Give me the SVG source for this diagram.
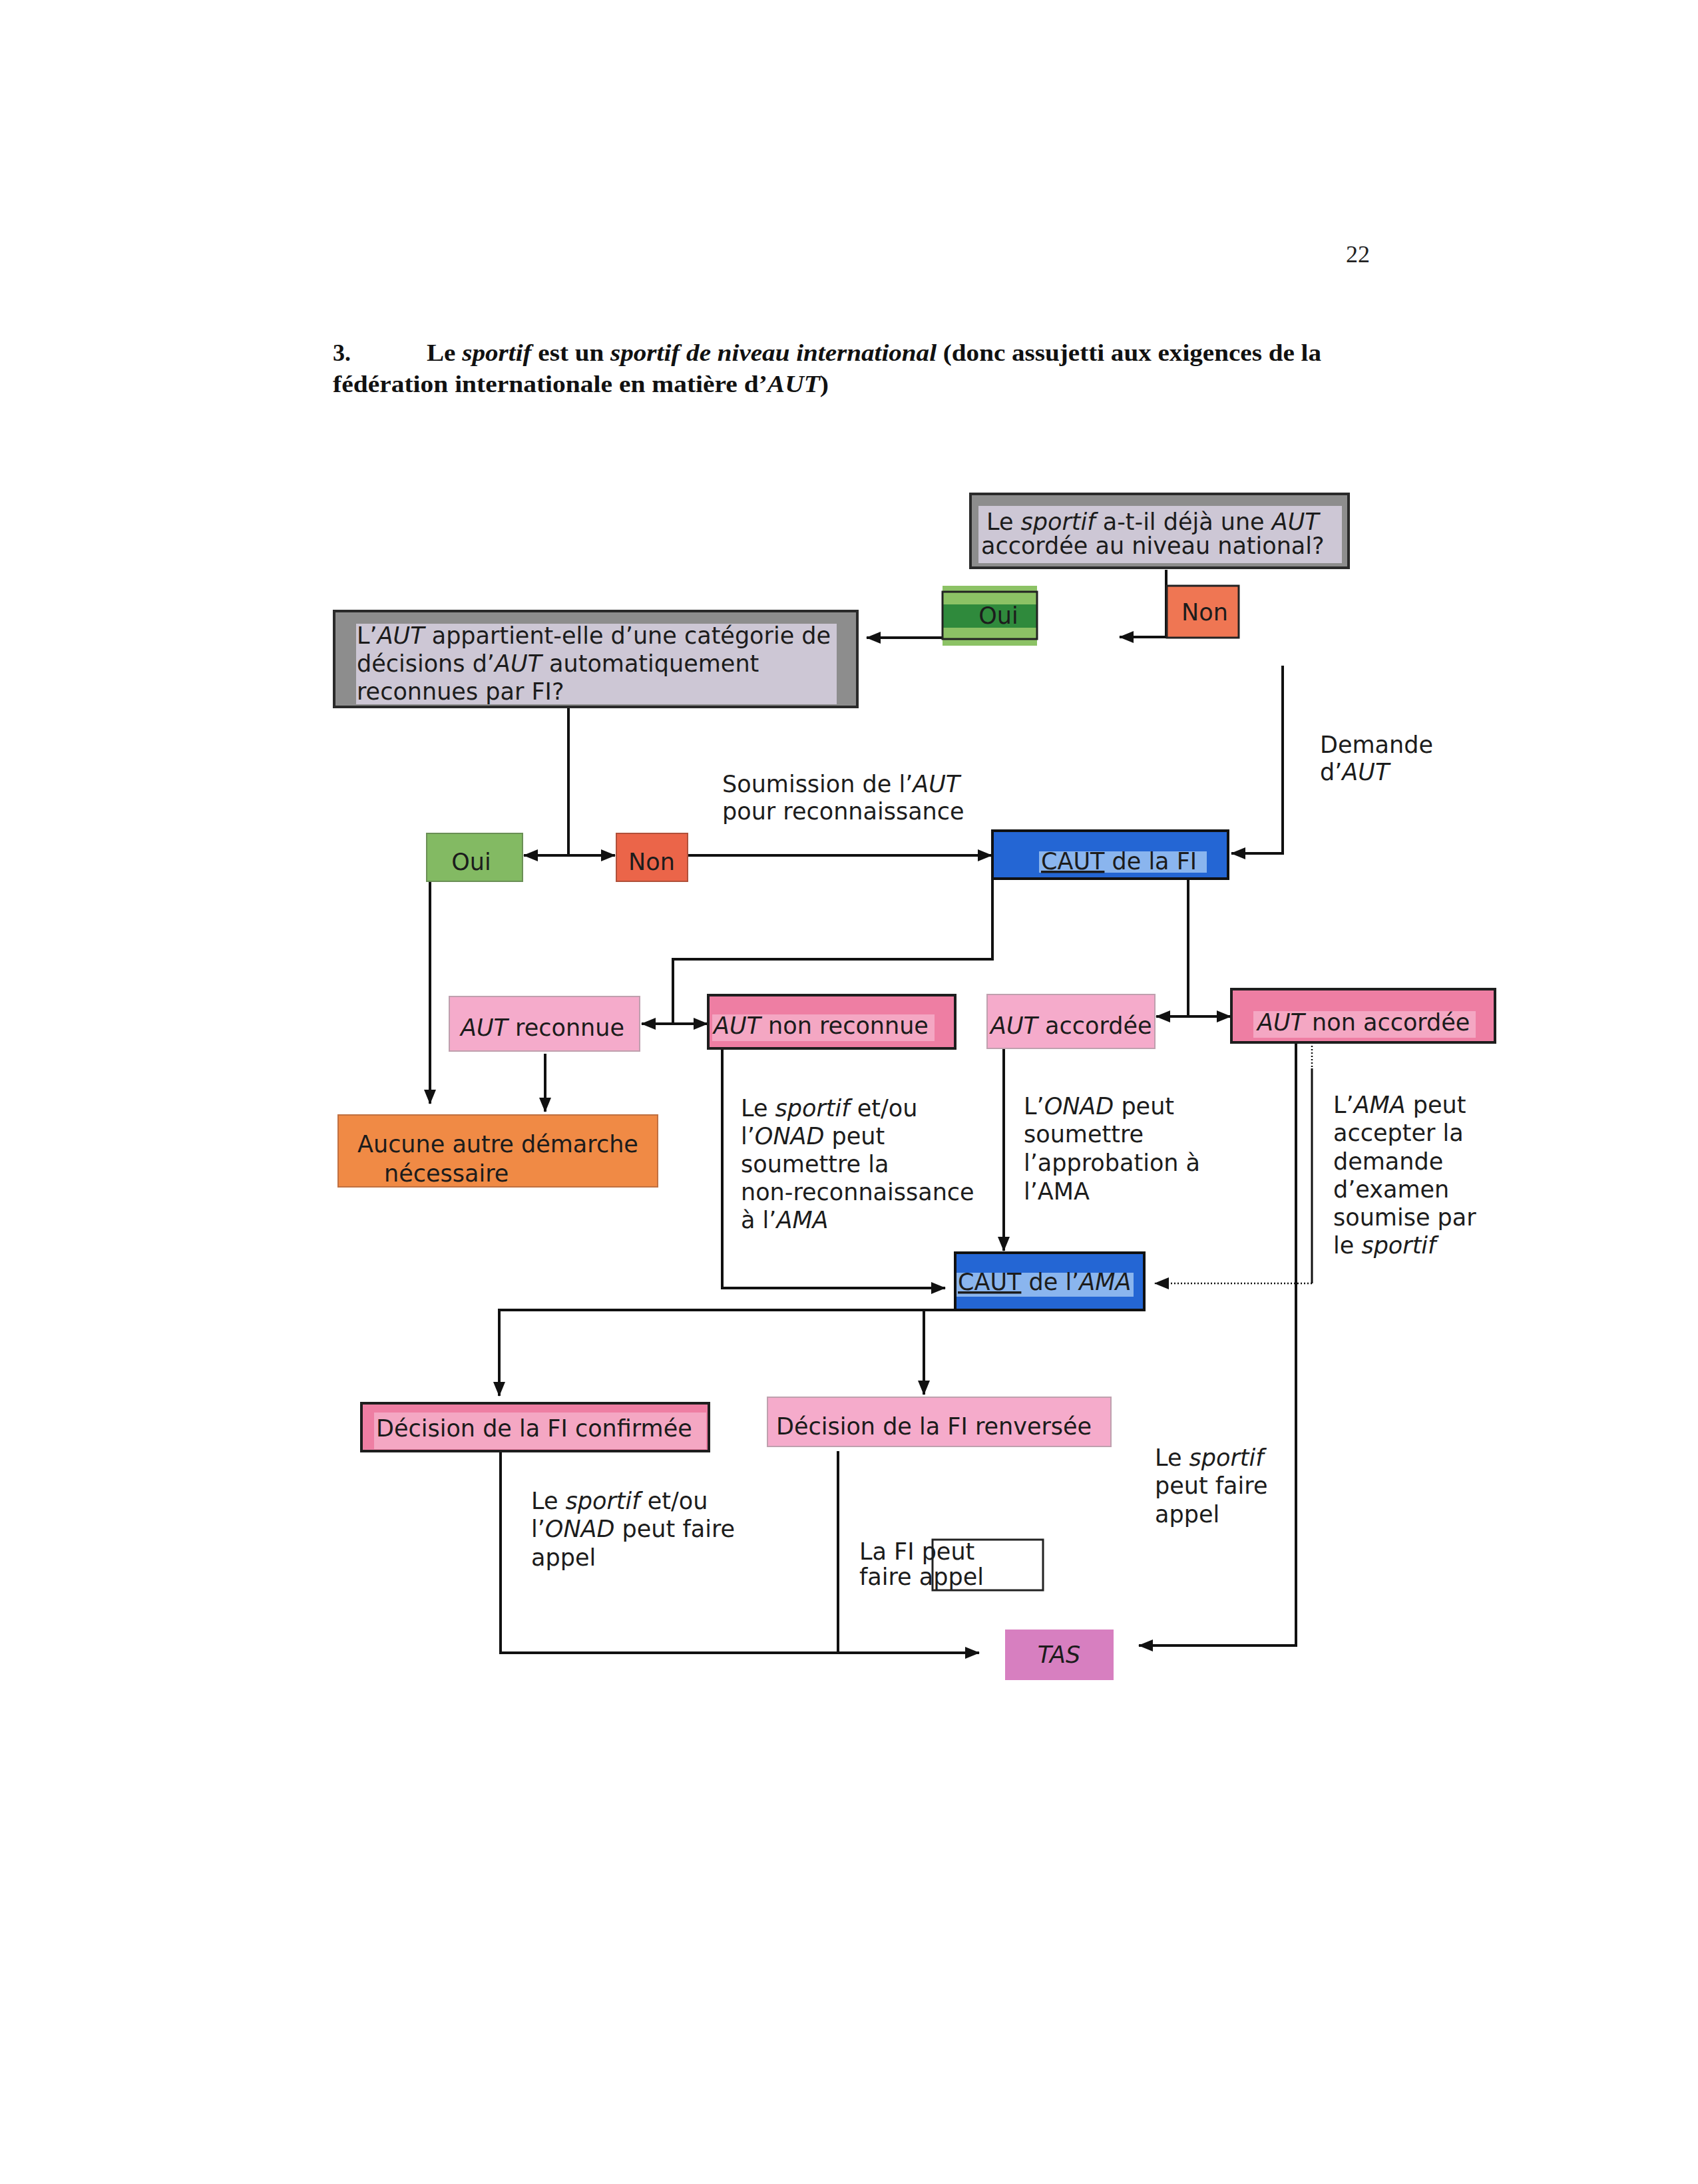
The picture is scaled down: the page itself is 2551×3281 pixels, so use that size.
<svg xmlns="http://www.w3.org/2000/svg" width="2551" height="3281" viewBox="0 0 2551 3281">
<style>
.t{font-family:"DejaVu Sans",Verdana,sans-serif;font-size:35px;fill:#1c1c1c}
.c{text-anchor:middle}
.i{font-style:italic}
.h{font-family:"Liberation Serif","Times New Roman",serif;font-size:36px;font-weight:bold;fill:#111}
.ln{stroke:#111;stroke-width:4;fill:none}
.dot{stroke:#111;stroke-width:2.5;fill:none;stroke-dasharray:2 3}
.grey{fill:#8d8d8d;stroke:#2a2a2a;stroke-width:4}
.lav{fill:#cdc7d5}
.lpink{fill:#f5abcb;stroke:#bfa0ae;stroke-width:2}
.dpink{fill:#ee7ea3;stroke:#1e1e1e;stroke-width:4}
.ipink{fill:#f4a7c3}
.blue{fill:#2466d4;stroke:#111;stroke-width:4}
.hl{fill:#8ab5ee}
</style>
<defs>
<marker id="ah" viewBox="0 0 22 18" markerWidth="22" markerHeight="18" refX="21" refY="9" orient="auto-start-reverse" markerUnits="userSpaceOnUse">
<path d="M0,0 L22,9 L0,18 z" fill="#111"/>
</marker>
</defs>

<g id="header">
<text class="h" x="500" y="542">3.</text>
<text class="h" x="641" y="542" textLength="1344" lengthAdjust="spacingAndGlyphs">Le <tspan class="i">sportif</tspan> est un <tspan class="i">sportif de niveau international</tspan> (donc assujetti aux exigences de la</text>
<text class="h" x="500" y="589" textLength="745" lengthAdjust="spacingAndGlyphs">fédération internationale en matière d’<tspan class="i">AUT</tspan>)</text>
<text x="2022" y="394" style="font-family:'Liberation Serif',serif;font-size:36px;fill:#222">22</text>
</g>

<g id="connectors">
<path class="ln" d="M1752,856 V957 H1682" marker-end="url(#ah)"/>
<path class="ln" d="M1416,958 H1302" marker-end="url(#ah)"/>
<path class="ln" d="M854,1062 V1285"/>
<path class="ln" d="M787,1285 H924" marker-start="url(#ah)" marker-end="url(#ah)"/>
<path class="ln" d="M1033,1285 H1490" marker-end="url(#ah)"/>
<path class="ln" d="M1927,1000 V1282 H1850" marker-end="url(#ah)"/>
<path class="ln" d="M1491,1320 V1441 H1011 V1538"/>
<path class="ln" d="M1785,1320 V1526"/>
<path class="ln" d="M964,1538 H1063" marker-start="url(#ah)" marker-end="url(#ah)"/>
<path class="ln" d="M1737,1527 H1849" marker-start="url(#ah)" marker-end="url(#ah)"/>
<path class="ln" d="M646,1325 V1658" marker-end="url(#ah)"/>
<path class="ln" d="M819,1583 V1670" marker-end="url(#ah)"/>
<path class="ln" d="M1085,1575 V1935 H1420" marker-end="url(#ah)"/>
<path class="ln" d="M1508,1575 V1879" marker-end="url(#ah)"/>
<path class="ln" d="M1947,1566 V2472 H1711" marker-end="url(#ah)"/>
<path class="dot" d="M1971,1566 V1605"/>
<path class="ln" d="M1971,1605 V1928" style="stroke-width:3"/>
<path class="dot" d="M1971,1928 H1735" marker-end="url(#ah)"/>
<path class="ln" d="M1435,1968 H750 V2097" marker-end="url(#ah)"/>
<path class="ln" d="M1388,1968 V2095" marker-end="url(#ah)"/>
<path class="ln" d="M752,2180 V2483 H1471" marker-end="url(#ah)"/>
<path class="ln" d="M1259,2180 V2483"/>
</g>

<g id="q-national">
<rect class="grey" x="1458" y="742" width="568" height="111"/>
<rect class="lav" x="1470" y="760" width="546" height="86"/>
<text class="t" x="1482" y="796">Le <tspan class="i">sportif</tspan> a-t-il déjà une <tspan class="i">AUT</tspan></text>
<text class="t" x="1474" y="832">accordée au niveau national?</text>
</g>

<g id="oui-1">
<rect x="1416" y="880" width="142" height="90" fill="#8cc265"/>
<rect x="1416" y="908" width="142" height="35" fill="#2f8a3c"/>
<rect x="1416" y="889" width="142" height="71" fill="none" stroke="#222" stroke-width="3"/>
<text class="t c" x="1500" y="937">Oui</text>
</g>

<g id="non-1">
<rect x="1753" y="880" width="108" height="78" fill="#ef7653" stroke="#222" stroke-width="3"/>
<text class="t c" x="1810" y="932">Non</text>
</g>

<g id="q-categorie">
<rect class="grey" x="502" y="918" width="786" height="144"/>
<rect class="lav" x="535" y="937" width="722" height="121"/>
<text class="t" x="536" y="967">L’<tspan class="i">AUT</tspan> appartient-elle d’une catégorie de</text>
<text class="t" x="536" y="1009">décisions d’<tspan class="i">AUT</tspan> automatiquement</text>
<text class="t" x="536" y="1051">reconnues par FI?</text>
</g>

<g id="label-demande">
<text class="t" x="1983" y="1131">Demande</text>
<text class="t" x="1983" y="1172">d’<tspan class="i">AUT</tspan></text>
</g>

<g id="label-soumission">
<text class="t" x="1085" y="1190">Soumission de l’<tspan class="i">AUT</tspan></text>
<text class="t" x="1085" y="1231">pour reconnaissance</text>
</g>

<g id="oui-2">
<rect x="641" y="1252" width="144" height="72" fill="#83ba63" stroke="#6a8f55" stroke-width="2"/>
<text class="t c" x="708" y="1307">Oui</text>
</g>

<g id="non-2">
<rect x="926" y="1252" width="107" height="72" fill="#eb6549" stroke="#b0503a" stroke-width="2"/>
<text class="t c" x="979" y="1307">Non</text>
</g>

<g id="caut-fi">
<rect class="blue" x="1491" y="1248" width="354" height="72"/>
<rect class="hl" x="1561" y="1279" width="252" height="32"/>
<text class="t" x="1564" y="1306"><tspan text-decoration="underline">CAUT</tspan> de la FI</text>
</g>

<g id="aut-reconnue">
<rect class="lpink" x="675" y="1497" width="286" height="82"/>
<text class="t" x="692" y="1556"><tspan class="i">AUT</tspan> reconnue</text>
</g>

<g id="aut-non-reconnue">
<rect class="dpink" x="1064" y="1495" width="371" height="80"/>
<rect class="ipink" x="1070" y="1524" width="334" height="40"/>
<text class="t" x="1072" y="1553"><tspan class="i">AUT</tspan> non reconnue</text>
</g>

<g id="aut-accordee">
<rect class="lpink" x="1483" y="1494" width="252" height="81"/>
<text class="t" x="1488" y="1553"><tspan class="i">AUT</tspan> accordée</text>
</g>

<g id="aut-non-accordee">
<rect class="dpink" x="1850" y="1486" width="396" height="80"/>
<rect class="ipink" x="1883" y="1519" width="334" height="40"/>
<text class="t" x="1889" y="1548"><tspan class="i">AUT</tspan> non accordée</text>
</g>

<g id="aucune">
<rect x="508" y="1675" width="480" height="108" fill="#f08a45" stroke="#c07040" stroke-width="2"/>
<text class="t" x="537" y="1731">Aucune autre démarche</text>
<text class="t" x="577" y="1775">nécessaire</text>
</g>

<g id="label-nonreconnaissance">
<text class="t" x="1113" y="1677">Le <tspan class="i">sportif</tspan> et/ou</text>
<text class="t" x="1113" y="1719">l’<tspan class="i">ONAD</tspan> peut</text>
<text class="t" x="1113" y="1761">soumettre la</text>
<text class="t" x="1113" y="1803">non-reconnaissance</text>
<text class="t" x="1113" y="1845">à l’<tspan class="i">AMA</tspan></text>
</g>

<g id="label-approbation">
<text class="t" x="1538" y="1674">L’<tspan class="i">ONAD</tspan> peut</text>
<text class="t" x="1538" y="1716">soumettre</text>
<text class="t" x="1538" y="1759">l’approbation à</text>
<text class="t" x="1538" y="1802">l’AMA</text>
</g>

<g id="label-ama">
<text class="t" x="2003" y="1672">L’<tspan class="i">AMA</tspan> peut</text>
<text class="t" x="2003" y="1714">accepter la</text>
<text class="t" x="2003" y="1757">demande</text>
<text class="t" x="2003" y="1799">d’examen</text>
<text class="t" x="2003" y="1841">soumise par</text>
<text class="t" x="2003" y="1883">le <tspan class="i">sportif</tspan></text>
</g>

<g id="caut-ama">
<rect class="blue" x="1435" y="1882" width="284" height="86"/>
<rect class="hl" x="1437" y="1912" width="266" height="36"/>
<text class="t" x="1439" y="1938"><tspan text-decoration="underline">CAUT</tspan> de l’<tspan class="i">AMA</tspan></text>
</g>

<g id="decision-confirmee">
<rect class="dpink" x="543" y="2108" width="522" height="72"/>
<rect class="ipink" x="562" y="2122" width="499" height="55"/>
<text class="t" x="565" y="2158">Décision de la FI confirmée</text>
</g>

<g id="decision-renversee">
<rect class="lpink" x="1153" y="2099" width="516" height="74"/>
<text class="t" x="1166" y="2155">Décision de la FI renversée</text>
</g>

<g id="label-appel-1">
<text class="t" x="798" y="2267">Le <tspan class="i">sportif</tspan> et/ou</text>
<text class="t" x="798" y="2309">l’<tspan class="i">ONAD</tspan> peut faire</text>
<text class="t" x="798" y="2352">appel</text>
</g>

<g id="label-appel-2">
<rect x="1401" y="2313" width="166" height="76" fill="none" stroke="#222" stroke-width="3"/>
<text class="t" x="1291" y="2343">La FI peut</text>
<text class="t" x="1291" y="2381">faire appel</text>
</g>

<g id="label-appel-3">
<text class="t" x="1735" y="2202">Le <tspan class="i">sportif</tspan></text>
<text class="t" x="1735" y="2244">peut faire</text>
<text class="t" x="1735" y="2287">appel</text>
</g>

<g id="tas">
<rect x="1510" y="2448" width="163" height="76" fill="#d77fc0"/>
<text class="t c i" x="1591" y="2498">TAS</text>
</g>
</svg>
